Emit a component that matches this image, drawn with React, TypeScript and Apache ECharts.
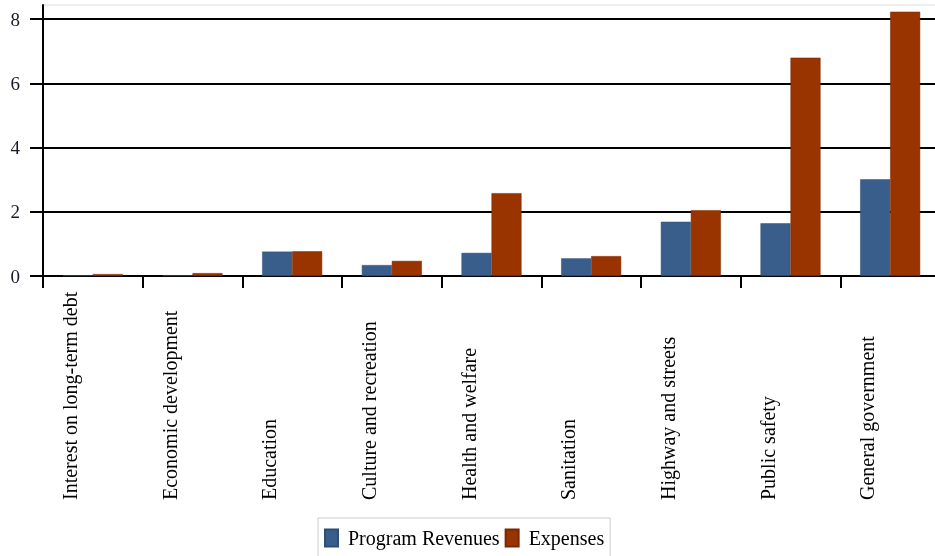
import React, { useEffect, useRef } from "react";
import * as echarts from "echarts";

const categories = [
  "Interest on long-term debt",
  "Economic development",
  "Education",
  "Culture and recreation",
  "Health and welfare",
  "Sanitation",
  "Highway and streets",
  "Public safety",
  "General government",
];
const programRevenues = [0.02, 0.02, 0.76, 0.34, 0.72, 0.55, 1.69, 1.64, 3.01];
const expenses = [0.06, 0.09, 0.77, 0.47, 2.58, 0.62, 2.05, 6.8, 8.23];
const yTicks = [0, 2, 4, 6, 8];

const FONT = "'Liberation Serif', 'Times New Roman', serif";

export default function App() {
  const ref = useRef<HTMLDivElement>(null);
  useEffect(() => {
    if (!ref.current) return;
    const chart = echarts.init(ref.current, null, { renderer: "svg" });
    chart.setOption({
      animation: false,
      textStyle: { fontFamily: FONT },
      grid: {
        left: 43,
        top: 5,
        height: 271,
        right: 0,
        show: true,
        borderColor: "#dddddd",
        borderWidth: 1,
        backgroundColor: "transparent",
      },
      legend: {
        left: 318,
        top: 518,
        padding: [10, 6, 10, 6],
        borderColor: "#cccccc",
        borderWidth: 1,
        itemGap: 5,
        itemWidth: 13,
        itemHeight: 17,
        icon: "rect",
        textStyle: { fontFamily: FONT, fontSize: 20, color: "#000", padding: [0, 0, 0, 5] },
        data: ["Program Revenues", "Expenses"],
      },
      xAxis: {
        type: "category",
        data: categories,
        axisLine: { show: true, lineStyle: { color: "#000", width: 2 } },
        axisTick: { show: true, length: 12, lineStyle: { color: "#000", width: 2 } },
        axisLabel: {
          rotate: 90,
          align: "left",
          verticalAlign: "bottom",
          margin: 224,
          padding: [0, 0, 13, 0],
          fontFamily: FONT,
          fontSize: 20,
          color: "#000",
        },
      },
      yAxis: {
        type: "value",
        min: 0,
        max: 8.44,
        interval: 2,
        axisLine: { show: true, lineStyle: { color: "#000", width: 2 } },
        axisTick: {
          show: true,
          length: 13,
          customValues: yTicks,
          lineStyle: { color: "#000", width: 2 },
        },
        axisLabel: {
          customValues: yTicks,
          margin: 23,
          fontFamily: FONT,
          fontSize: 19,
          color: "#1a1a2a",
        },
        splitLine: {
          show: true,
          lineStyle: { color: "#000", width: 2 },
        },
      },
      series: [
        {
          name: "Program Revenues",
          type: "bar",
          data: programRevenues,
          barWidth: 30,
          barGap: "0%",
          itemStyle: { color: "#3a5e8c", borderColor: "#2e4d75", borderWidth: 0.5 },
        },
        {
          name: "Expenses",
          type: "bar",
          data: expenses,
          barWidth: 30,
          barGap: "0%",
          itemStyle: { color: "#993300", borderColor: "#7a2800", borderWidth: 0.5 },
        },
      ],
    });
    return () => chart.dispose();
  }, []);
  return (
    <div
      ref={ref}
      style={{ position: "fixed", left: 0, top: 0, width: 940, height: 556 }}
    />
  );
}
